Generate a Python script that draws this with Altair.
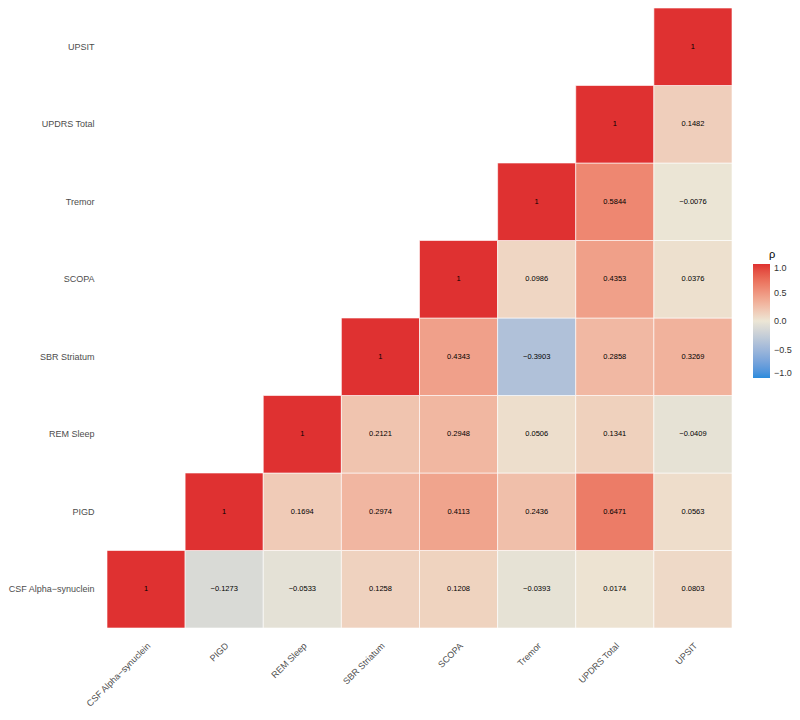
import altair as alt
import pandas as pd

variables = ["CSF Alpha\u2212synuclein", "PIGD", "REM Sleep", "SBR Striatum",
             "SCOPA", "Tremor", "UPDRS Total", "UPSIT"]

# correlations: each row i lists values for columns i..7
row_csf = [1, -0.1273, -0.0533, 0.1258, 0.1208, -0.0393, 0.0174, 0.0803]
row_pigd = [1, 0.1694, 0.2974, 0.4113, 0.2436, 0.6471, 0.0563]
row_rem = [1, 0.2121, 0.2948, 0.0506, 0.1341, -0.0409]
row_sbr = [1, 0.4343, -0.3903, 0.2858, 0.3269]
row_scopa = [1, 0.0986, 0.4353, 0.0376]
row_tremor = [1, 0.5844, -0.0076]
row_updrs = [1, 0.1482]
row_upsit = [1]

rows = [row_csf, row_pigd, row_rem, row_sbr, row_scopa, row_tremor, row_updrs, row_upsit]

records = []
for i, r in enumerate(rows):
    for k, v in enumerate(r):
        j = i + k
        if v == 1:
            lab = "1"
        else:
            lab = ("%.4f" % v).replace("-", "\u2212")
        records.append({"row": variables[i], "col": variables[j], "rho": v, "label": lab})
df = pd.DataFrame(records)

font = "Liberation Sans"

base = alt.Chart(df).encode(
    x=alt.X("col:N", sort=variables, title=None,
            axis=alt.Axis(labelAngle=-45, labelAlign="right", labelBaseline="top",
                          labelPadding=13, ticks=False, domain=False,
                          labelFontSize=9, labelColor="#4D4D4D", labelFont=font)),
    y=alt.Y("row:N", sort=variables[::-1], title=None,
            axis=alt.Axis(ticks=False, domain=False, labelPadding=13,
                          labelFontSize=9, labelColor="#4D4D4D", labelFont=font)),
)

rects = base.mark_rect(stroke="white", strokeWidth=1, strokeOpacity=0.6).encode(
    color=alt.Color("rho:Q", title="\u03c1",
                    scale=alt.Scale(domain=[-1, 0, 1],
                                    range=["#2A8BDC", "#ECE6D5", "#DF3131"],
                                    interpolate="lab"),
                    legend=alt.Legend(orient="none", legendX=646, legendY=241,
                                      gradientLength=114, gradientThickness=17,
                                      values=[1, 0.5, 0, -0.5, -1], format=".1f",
                                      titleFontSize=11, titleFont=font,
                                      titleFontWeight="normal", titleColor="#000000",
                                      titlePadding=4, titleAnchor="middle",
                                      labelFontSize=9, labelFont=font, labelColor="#333333",
                                      labelOffset=4, tickCount=5))
)

texts = base.mark_text(fontSize=7.5, font=font, color="#000000").encode(text="label:N")

chart = (rects + texts).properties(
    width=625, height=620,
    autosize=alt.AutoSizeParams(type="none"),
    padding={"left": 99, "top": 0, "right": 60, "bottom": 82},
).configure_view(stroke=None).configure_scale(bandPaddingInner=0, bandPaddingOuter=0)

chart.save("out.html", embed_options={"renderer": "svg", "actions": False})
